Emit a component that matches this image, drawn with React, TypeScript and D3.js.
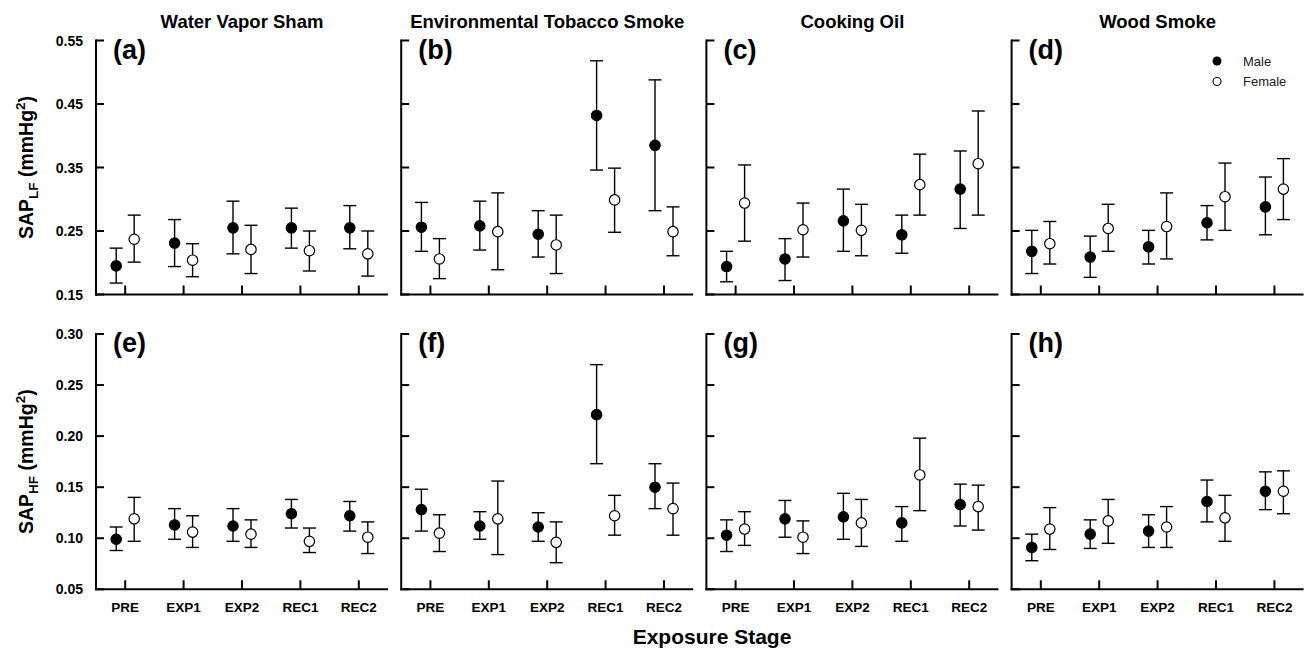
import React from "react";
import * as d3 from "d3";

// ---- data ----
const stages = ["PRE", "EXP1", "EXP2", "REC1", "REC2"];
const exposures = ["Water Vapor Sham", "Environmental Tobacco Smoke", "Cooking Oil", "Wood Smoke"];
const topLetters = ["(a)", "(b)", "(c)", "(d)"];
const bottomLetters = ["(e)", "(f)", "(g)", "(h)"];
const lfTicks = [0.15, 0.25, 0.35, 0.45, 0.55];
const hfTicks = [0.05, 0.1, 0.15, 0.2, 0.25, 0.3];

// [mean, lower, upper] per stage
const aMale = [[0.195, 0.168, 0.223], [0.231, 0.194, 0.268], [0.255, 0.214, 0.297], [0.255, 0.223, 0.286], [0.255, 0.222, 0.29]];
const aFemale = [[0.237, 0.201, 0.275], [0.204, 0.178, 0.23], [0.221, 0.183, 0.259], [0.219, 0.187, 0.25], [0.214, 0.179, 0.25]];
const bMale = [[0.256, 0.218, 0.295], [0.258, 0.22, 0.297], [0.245, 0.209, 0.282], [0.432, 0.346, 0.518], [0.385, 0.282, 0.488]];
const bFemale = [[0.206, 0.175, 0.238], [0.249, 0.189, 0.31], [0.228, 0.183, 0.275], [0.299, 0.248, 0.349], [0.249, 0.211, 0.288]];
const cMale = [[0.194, 0.17, 0.218], [0.206, 0.172, 0.238], [0.266, 0.218, 0.316], [0.244, 0.215, 0.275], [0.316, 0.254, 0.376]];
const cFemale = [[0.294, 0.234, 0.354], [0.252, 0.209, 0.294], [0.251, 0.211, 0.292], [0.323, 0.275, 0.371], [0.356, 0.275, 0.439]];
const dMale = [[0.218, 0.183, 0.251], [0.209, 0.177, 0.242], [0.225, 0.198, 0.251], [0.263, 0.236, 0.29], [0.288, 0.244, 0.335]];
const dFemale = [[0.23, 0.198, 0.265], [0.254, 0.218, 0.292], [0.257, 0.206, 0.31], [0.304, 0.251, 0.357], [0.316, 0.268, 0.364]];
const eMale = [[0.099, 0.088, 0.111], [0.113, 0.099, 0.129], [0.112, 0.097, 0.129], [0.124, 0.11, 0.138], [0.122, 0.107, 0.136]];
const eFemale = [[0.119, 0.097, 0.14], [0.106, 0.091, 0.122], [0.104, 0.091, 0.118], [0.097, 0.086, 0.11], [0.101, 0.085, 0.116]];
const fMale = [[0.128, 0.107, 0.148], [0.112, 0.099, 0.126], [0.111, 0.097, 0.125], [0.221, 0.173, 0.27], [0.15, 0.129, 0.173]];
const fFemale = [[0.105, 0.087, 0.123], [0.119, 0.084, 0.156], [0.096, 0.076, 0.116], [0.122, 0.103, 0.142], [0.129, 0.103, 0.154]];
const gMale = [[0.103, 0.087, 0.118], [0.119, 0.101, 0.137], [0.121, 0.099, 0.144], [0.115, 0.097, 0.131], [0.133, 0.112, 0.153]];
const gFemale = [[0.109, 0.093, 0.126], [0.101, 0.085, 0.117], [0.115, 0.092, 0.138], [0.162, 0.127, 0.198], [0.131, 0.108, 0.152]];
const hMale = [[0.091, 0.078, 0.104], [0.104, 0.09, 0.118], [0.107, 0.091, 0.123], [0.136, 0.116, 0.157], [0.146, 0.128, 0.165]];
const hFemale = [[0.109, 0.089, 0.13], [0.117, 0.095, 0.138], [0.111, 0.091, 0.131], [0.12, 0.097, 0.142], [0.146, 0.124, 0.166]];

const topMale = [aMale, bMale, cMale, dMale];
const topFemale = [aFemale, bFemale, cFemale, dFemale];
const bottomMale = [eMale, fMale, gMale, hMale];
const bottomFemale = [eFemale, fFemale, gFemale, hFemale];

// ---- layout ----
const W = 1306;
const H = 651;
const panelLeft0 = 96;
const panelStep = 305.2;
const panelW = 292;
const rows = [
  { top: 40.5, bottom: 294.5, domain: [0.15, 0.55], ticks: lfTicks, sub: "LF", letters: topLetters, male: topMale, female: topFemale },
  { top: 334, bottom: 589.3, domain: [0.05, 0.3], ticks: hfTicks, sub: "HF", letters: bottomLetters, male: bottomMale, female: bottomFemale },
];
const FONT = "'Liberation Sans', Arial, Helvetica, sans-serif";
const offset = 9;
const capW = 6.5;
const R = 5.2;

function ErrPoint({ x, y, d, filled }: { x: number; y: any; d: number[]; filled: boolean }) {
  const [m, lo, hi] = d;
  return (
    <g>
      <line x1={x} x2={x} y1={y(lo)} y2={y(hi)} stroke="#000" strokeWidth={1.4} />
      <line x1={x - capW} x2={x + capW} y1={y(hi)} y2={y(hi)} stroke="#000" strokeWidth={1.4} />
      <line x1={x - capW} x2={x + capW} y1={y(lo)} y2={y(lo)} stroke="#000" strokeWidth={1.4} />
      <circle cx={x} cy={y(m)} r={R} fill={filled ? "#000" : "#fff"} stroke="#000" strokeWidth={1.2} />
    </g>
  );
}

export default function App() {
  const x = d3.scalePoint<string>().domain(stages).range([0, panelW]).padding(0.5);
  const fmt = d3.format(".2f");
  return (
    <svg width={W} height={H} style={{ position: "absolute", left: 0, top: 0, background: "#fff" }} fontFamily={FONT}>
      <rect width={W} height={H} fill="#fff" />
      {exposures.map((t, i) => (
        <text key={t} x={panelLeft0 + i * panelStep + panelW / 2} y={28} textAnchor="middle" fontSize={18.5} fontWeight="bold">
          {t}
        </text>
      ))}
      {rows.map((row, ri) => {
        const y = d3.scaleLinear().domain(row.domain).range([row.bottom, row.top]);
        return (
          <g key={ri}>
            {/* y label */}
            <text transform={`translate(33,${(row.top + row.bottom) / 2}) rotate(-90)`} textAnchor="middle" fontSize={19.5} fontWeight="bold">
              SAP
              <tspan fontSize={13.5} dy={5}>{row.sub}</tspan>
              <tspan dy={-5}> (mmHg</tspan>
              <tspan fontSize={13.5} dy={-8}>2</tspan>
              <tspan dy={8}>)</tspan>
            </text>
            {/* tick labels on first column */}
            {row.ticks.map((t) => (
              <text key={t} x={panelLeft0 - 13} y={y(t)} dy="0.36em" textAnchor="end" fontSize={14} fontWeight="bold">
                {fmt(t)}
              </text>
            ))}
            {exposures.map((_, pi) => {
              const left = panelLeft0 + pi * panelStep;
              return (
                <g key={pi} transform={`translate(${left},0)`}>
                  <line x1={0} x2={0} y1={row.top - 1} y2={row.bottom + 1} stroke="#000" strokeWidth={2} />
                  <line x1={-1} x2={panelW} y1={row.bottom} y2={row.bottom} stroke="#000" strokeWidth={2} />
                  {row.ticks.map((t) => (
                    <line key={t} x1={0} x2={8} y1={y(t)} y2={y(t)} stroke="#000" strokeWidth={2} />
                  ))}
                  {stages.map((s) => (
                    <line key={s} x1={x(s)} x2={x(s)} y1={row.bottom} y2={row.bottom - 9} stroke="#000" strokeWidth={2} />
                  ))}
                  {ri === 1 &&
                    stages.map((s) => (
                      <text key={s} x={x(s)} y={612} textAnchor="middle" fontSize={13.5} fontWeight="bold">
                        {s}
                      </text>
                    ))}
                  <text x={17} y={row.top + 18} fontSize={27} fontWeight="bold">
                    {row.letters[pi]}
                  </text>
                  {stages.map((s, si) => (
                    <g key={s}>
                      <ErrPoint x={(x(s) as number) - offset} y={y} d={row.male[pi][si]} filled={true} />
                      <ErrPoint x={(x(s) as number) + offset} y={y} d={row.female[pi][si]} filled={false} />
                    </g>
                  ))}
                </g>
              );
            })}
          </g>
        );
      })}
      {/* legend */}
      <g>
        <circle cx={1217} cy={61} r={4.5} fill="#000" />
        <text x={1243} y={61} dy="0.35em" fontSize={13} fill="#222">Male</text>
        <circle cx={1217} cy={81.5} r={4} fill="#fff" stroke="#000" strokeWidth={1.1} />
        <text x={1243} y={81.5} dy="0.35em" fontSize={13} fill="#222">Female</text>
      </g>
      <text x={712} y={644} textAnchor="middle" fontSize={21} fontWeight="bold">
        Exposure Stage
      </text>
    </svg>
  );
}
